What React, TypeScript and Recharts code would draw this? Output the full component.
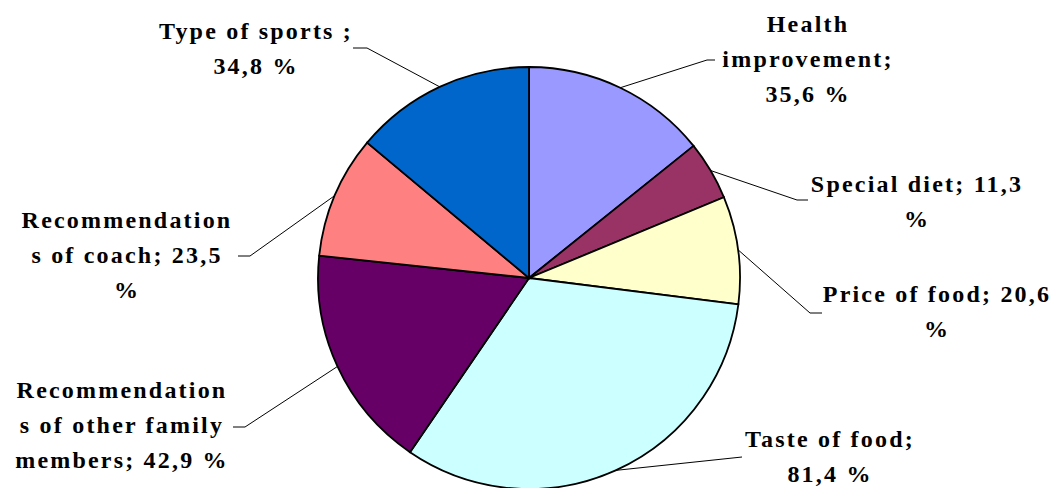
import React from 'react';
import { PieChart, Pie, Cell } from 'recharts';

const names = [
  'Health improvement',
  'Special diet',
  'Price of food',
  'Taste of food',
  'Recommendations of other family members',
  'Recommendations of coach',
  'Type of sports',
];
const values = [35.6, 11.3, 20.6, 81.4, 42.9, 23.5, 34.8];
const labelText = [
  ['Health', 'improvement;', '35,6 %'],
  ['Special diet; 11,3', '%'],
  ['Price of food; 20,6', '%'],
  ['Taste of food;', '81,4 %'],
  ['Recommendation', 's of other family', 'members; 42,9 %'],
  ['Recommendation', 's of coach; 23,5', '%'],
  ['Type of sports ;', '34,8 %'],
];
const colors = ['#9999FF', '#993366', '#FFFFCC', '#CCFFFF', '#660066', '#FF8080', '#0066CC'];

// label placement, offsets from the pie centre: elbow x/y, tail x, text centre x, first baseline y
const labelPos = [
  [178, -218, 186, 279, -246],
  [268, -78, 279, 388, -86],
  [281, 35, 293, 408, 24],
  [213, 179, 213, 301, 169],
  [-284, 149, -296, -407, 120],
  [-279, -22, -291, -402, -50],
  [-162, -230, -176, -273, -239],
];

const data = names.map((name, i) => ({ name, value: values[i] }));

const RAD = Math.PI / 180;

const renderLabel = (props: any) => {
  const { cx, cy, midAngle, outerRadius, index } = props;
  const [ex, ey, hx, tx, ty] = labelPos[index];
  const sx = cx + outerRadius * Math.cos(-midAngle * RAD);
  const sy = cy + outerRadius * Math.sin(-midAngle * RAD);
  return (
    <g key={`lbl-${index}`}>
      <polyline
        points={`${sx},${sy} ${cx + ex},${cy + ey} ${cx + hx},${cy + ey}`}
        fill="none"
        stroke="#000"
        strokeWidth={1}
      />
      <text
        x={cx + tx}
        y={cy + ty}
        textAnchor="middle"
        fontFamily="Liberation Serif"
        fontWeight={700}
        fontSize={24}
        letterSpacing={2.2}
        fill="#000"
      >
        {labelText[index].map((line, j) => (
          <tspan key={j} x={cx + tx} dy={j === 0 ? 0 : 35}>
            {line}
          </tspan>
        ))}
      </text>
    </g>
  );
};

export default function App() {
  return (
    <div style={{ position: 'absolute', left: 0, top: 0, width: 1052, height: 488, overflow: 'hidden', background: '#fff' }}>
      <PieChart width={1052} height={488} margin={{ top: 0, right: 0, bottom: 0, left: 0 }}>
        <Pie
          data={data}
          dataKey="value"
          nameKey="name"
          cx={529}
          cy={278}
          outerRadius={211}
          startAngle={90}
          endAngle={-270}
          stroke="#000"
          strokeWidth={1.8}
          label={renderLabel}
          labelLine={false}
          isAnimationActive={false}
        >
          {data.map((d, i) => (
            <Cell key={d.name} fill={colors[i]} />
          ))}
        </Pie>
      </PieChart>
    </div>
  );
}
